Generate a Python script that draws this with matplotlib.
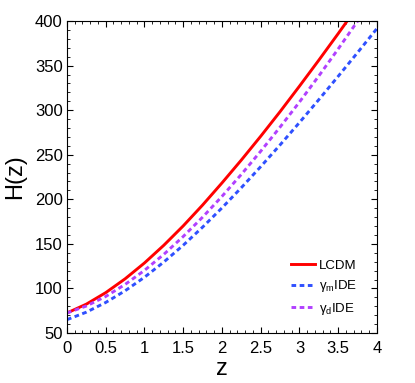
import matplotlib
matplotlib.use("Agg")
import matplotlib.pyplot as plt
from matplotlib.ticker import MultipleLocator

plt.rcParams['font.family'] = ['Liberation Sans', 'DejaVu Sans']
plt.rcParams['mathtext.fontset'] = 'custom'
plt.rcParams['mathtext.rm'] = 'Liberation Sans'
plt.rcParams['mathtext.it'] = 'Liberation Sans'

# values
z = [0.0, 0.25, 0.5, 0.75, 1.0, 1.25, 1.5, 1.75, 2.0,
     2.25, 2.5, 2.75, 3.0, 3.25, 3.5, 3.75, 4.0]
h_lcdm = [72.5, 82.4, 95.3, 110.8, 128.6, 148.5, 170.2, 193.6, 218.4,
          244.1, 270.8, 298.4, 327.0, 356.2, 386.0, 416.5, 447.8]
h_gm = [65.0, 73.4, 84.3, 97.4, 112.6, 129.7, 148.5, 168.8, 190.4,
        213.1, 236.7, 261.1, 286.2, 311.9, 338.1, 364.7, 391.7]
h_gd = [72.5, 80.3, 91.0, 104.5, 120.3, 138.3, 158.3, 180.0, 203.3,
        228.0, 254.0, 281.1, 309.2, 338.5, 368.8, 400.0, 432.5]
xticks = [0, 0.5, 1, 1.5, 2, 2.5, 3, 3.5, 4]
xticklabels = ['0', '0.5', '1', '1.5', '2', '2.5', '3', '3.5', '4']

fig = plt.figure(figsize=(4.15, 3.83), dpi=100)
ax = fig.add_axes([0.1614, 0.1305, 0.7470, 0.8145])

ax.plot(z, h_lcdm, color='#ff0000', lw=2.1, label='LCDM')
ax.plot(z, h_gm, color='#2f50ff', lw=2.1, dashes=(1.6, 1.2), label=r'$\gamma_m$IDE')
ax.plot(z, h_gd, color='#b140ff', lw=2.1, dashes=(1.6, 1.2), label=r'$\gamma_d$IDE')

ax.set_xlim(0, 4)
ax.set_ylim(50, 400)
ax.set_xticks(xticks)
ax.set_xticklabels(xticklabels)
ax.xaxis.set_minor_locator(MultipleLocator(0.1))
ax.yaxis.set_major_locator(MultipleLocator(50))
ax.yaxis.set_minor_locator(MultipleLocator(10))
ax.tick_params(which='both', direction='in', top=True, right=True,
               labelsize=12, colors='black')
ax.tick_params(which='major', length=4, width=0.8)
ax.tick_params(which='minor', length=2, width=0.6)
ax.tick_params(axis='x', which='major', pad=5.5)
ax.tick_params(axis='y', which='major', pad=3)
for s in ax.spines.values():
    s.set_linewidth(0.8)

ax.set_xlabel('z', fontsize=17, labelpad=2)
ax.set_ylabel('H(z)', fontsize=17, labelpad=6)

ax.legend(loc='lower right', bbox_to_anchor=(0.953, 0.035), borderaxespad=0,
          frameon=False, fontsize=9.5, handlelength=1.8,
          handletextpad=0.3, labelspacing=0.5)

fig.savefig('out.png', dpi=100)
